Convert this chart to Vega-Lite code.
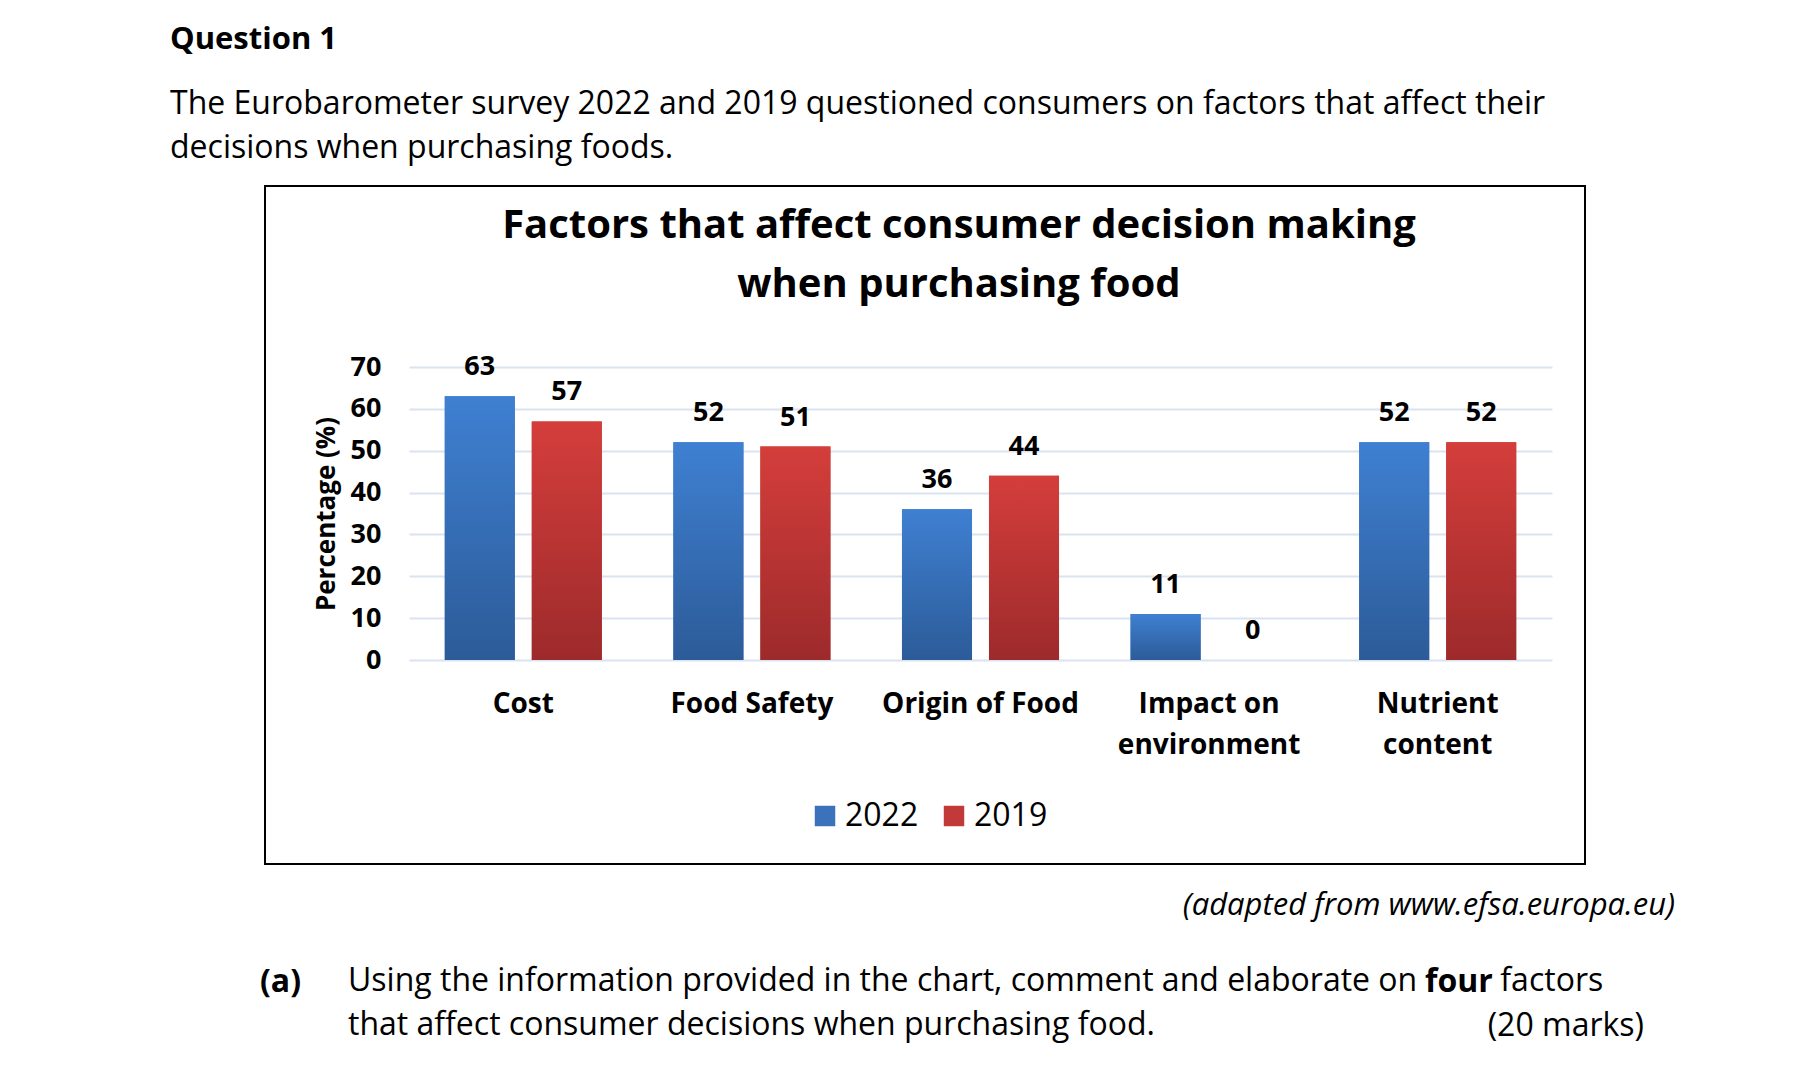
{
  "$schema": "https://vega.github.io/schema/vega-lite/v6.json",
  "background": "white",
  "padding": {"left": 170, "top": 24, "right": 0, "bottom": 30},
  "config": {
    "font": "Open Sans",
    "view": {"stroke": "#000000", "strokeWidth": 2},
    "concat": {"spacing": 0}
  },
  "title": {
    "text": "Question 1",
    "subtitle": ["The Eurobarometer survey 2022 and 2019 questioned consumers on factors that affect their", "decisions when purchasing foods."],
    "anchor": "start",
    "dx": -90,
    "offset": 20,
    "font": "Open Sans",
    "fontSize": 31,
    "fontWeight": "bold",
    "color": "#000000",
    "subtitleFont": "Open Sans",
    "subtitleFontSize": 32,
    "subtitleFontWeight": "normal",
    "subtitleColor": "#000000",
    "subtitleLineHeight": 44,
    "subtitlePadding": 33
  },
  "vconcat": [
    {
      "title": {
        "text": "(20 marks)",
        "orient": "bottom",
        "anchor": "end",
        "dx": -31,
        "offset": -30,
        "font": "Open Sans",
        "fontSize": 32,
        "fontWeight": "normal",
        "color": "#000000"
      },
      "vconcat": [
        {
          "title": {
            "text": "four",
            "orient": "bottom",
            "anchor": "start",
            "dx": 1165,
            "offset": -74,
            "font": "Open Sans",
            "fontSize": 32,
            "fontWeight": "bold",
            "color": "#000000"
          },
          "vconcat": [
            {
              "title": {
                "text": "(a)",
                "orient": "bottom",
                "anchor": "start",
                "dx": -4,
                "offset": -74,
                "font": "Open Sans",
                "fontSize": 32,
                "fontWeight": "bold",
                "color": "#000000"
              },
              "vconcat": [
                {
                  "title": {
                    "text": ["Using the information provided in the chart, comment and elaborate on\u00a0\u00a0\u00a0\u00a0\u00a0\u00a0\u00a0\u00a0\u00a0\u00a0factors", "that affect consumer decisions when purchasing food."],
                    "orient": "bottom",
                    "anchor": "start",
                    "dx": 84,
                    "offset": 45,
                    "font": "Open Sans",
                    "fontSize": 32,
                    "fontWeight": "normal",
                    "lineHeight": 44,
                    "color": "#000000"
                  },
                  "vconcat": [
                    {
                      "title": {
                        "text": "(adapted from www.efsa.europa.eu)",
                        "orient": "bottom",
                        "anchor": "end",
                        "dx": 89,
                        "offset": 26,
                        "font": "Open Sans",
                        "fontSize": 31,
                        "fontStyle": "italic",
                        "fontWeight": "normal",
                        "color": "#000000"
                      },
                      "vconcat": [
                        {
                          "width": 1320,
                          "height": 678,
                          "title": {
                            "text": ["Factors that affect consumer decision making", "when purchasing food"],
                            "anchor": "middle",
                            "frame": "group",
                            "dx": 34,
                            "offset": -119,
                            "font": "Open Sans",
                            "fontSize": 40,
                            "fontWeight": "bold",
                            "lineHeight": 59,
                            "color": "#000000"
                          },
                          "data": {
                            "values": [
                              {"factor": "Cost", "year": "2022", "value": 63},
                              {"factor": "Cost", "year": "2019", "value": 57},
                              {"factor": "Food Safety", "year": "2022", "value": 52},
                              {"factor": "Food Safety", "year": "2019", "value": 51},
                              {"factor": "Origin of Food", "year": "2022", "value": 36},
                              {"factor": "Origin of Food", "year": "2019", "value": 44},
                              {"factor": "Impact on environment", "year": "2022", "value": 11},
                              {"factor": "Impact on environment", "year": "2019", "value": 0},
                              {"factor": "Nutrient content", "year": "2022", "value": 52},
                              {"factor": "Nutrient content", "year": "2019", "value": 52}
                            ]
                          },
                          "encoding": {
                            "x": {
                              "field": "factor",
                              "type": "nominal",
                              "sort": ["Cost", "Food Safety", "Origin of Food", "Impact on environment", "Nutrient content"],
                              "scale": {"range": [144, 1287], "paddingInner": 0.313, "paddingOuter": 0.1565},
                              "axis": {
                                "orient": "bottom",
                                "offset": -204,
                                "title": null,
                                "domain": false,
                                "ticks": false,
                                "grid": false,
                                "labelAngle": 0,
                                "labelLimit": 0,
                                "labelFont": "Open Sans",
                                "labelFontSize": 28,
                                "labelFontWeight": "bold",
                                "labelColor": "#000000",
                                "labelPadding": 30,
                                "labelBaseline": "top",
                                "labelLineHeight": 41,
                                "labelExpr": "datum.label == 'Impact on environment' ? ['Impact on', 'environment'] : datum.label == 'Nutrient content' ? ['Nutrient', 'content'] : datum.label"
                              }
                            },
                            "xOffset": {
                              "field": "year",
                              "type": "nominal",
                              "sort": ["2022", "2019"],
                              "scale": {"paddingInner": 0.195, "paddingOuter": 0}
                            },
                            "y": {
                              "field": "value",
                              "type": "quantitative",
                              "scale": {"domain": [0, 70], "range": [474, 181], "nice": false},
                              "axis": {
                                "orient": "left",
                                "offset": -144,
                                "values": [0, 10, 20, 30, 40, 50, 60, 70],
                                "domain": false,
                                "ticks": false,
                                "grid": true,
                                "gridColor": "#d9e3f1",
                                "gridWidth": 2,
                                "labelFont": "Open Sans",
                                "labelFontSize": 27,
                                "labelFontWeight": "bold",
                                "labelColor": "#000000",
                                "labelPadding": 28,
                                "title": "Percentage (%)",
                                "titleFont": "Open Sans",
                                "titleFontSize": 26,
                                "titleFontWeight": "bold",
                                "titleColor": "#000000",
                                "titlePadding": 11
                              }
                            }
                          },
                          "layer": [
                            {
                              "mark": {"type": "bar"},
                              "encoding": {
                                "color": {
                                  "field": "year",
                                  "type": "nominal",
                                  "scale": {"domain": ["2022", "2019"], "range": ["#3a72bc", "#c13938"]},
                                  "legend": {
                                    "orient": "none",
                                    "legendX": 544,
                                    "legendY": 614,
                                    "direction": "horizontal",
                                    "title": null,
                                    "symbolType": "square",
                                    "symbolSize": 420,
                                    "symbolStrokeWidth": 0,
                                    "labelFont": "Open Sans",
                                    "labelFontSize": 32,
                                    "labelColor": "#000000",
                                    "labelOffset": 4,
                                    "columnPadding": 19
                                  }
                                }
                              }
                            },
                            {
                              "mark": {"type": "bar"},
                              "encoding": {
                                "fill": {
                                  "condition": {
                                    "test": "datum.year == '2022'",
                                    "value": {"gradient": "linear", "x1": 0, "y1": 0, "x2": 0, "y2": 1, "stops": [{"offset": 0, "color": "#3f80d2"}, {"offset": 1, "color": "#2c5b98"}]}
                                  },
                                  "value": {"gradient": "linear", "x1": 0, "y1": 0, "x2": 0, "y2": 1, "stops": [{"offset": 0, "color": "#d43e3b"}, {"offset": 1, "color": "#9d2a2b"}]}
                                }
                              }
                            },
                            {
                              "mark": {"type": "text", "baseline": "alphabetic", "dy": -21, "font": "Open Sans", "fontSize": 27, "fontWeight": "bold", "color": "#000000"},
                              "encoding": {
                                "text": {"field": "value", "type": "quantitative"}
                              }
                            }
                          ]
                        }
                      ]
                    }
                  ]
                }
              ]
            }
          ]
        }
      ]
    }
  ]
}
